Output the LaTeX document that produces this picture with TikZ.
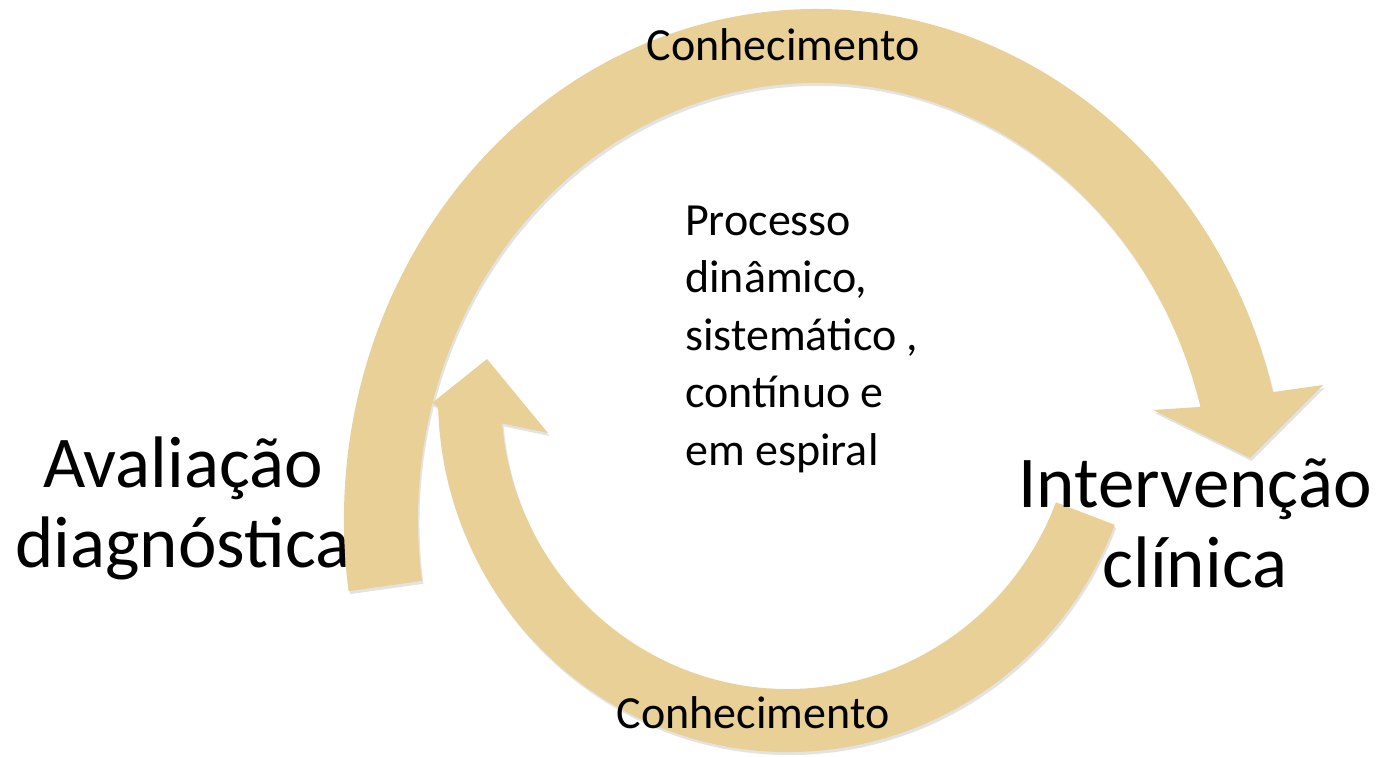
\documentclass[tikz,border=0pt]{standalone}
\usepackage{fontspec}
\setmainfont{Carlito}
\usetikzlibrary{calc,shadows}
\definecolor{papyrus}{RGB}{232,208,150}
\begin{document}
\begin{tikzpicture}[x=1pt,y=1pt,
  arrowband/.style={fill=papyrus, draw=none,
    drop shadow={opacity=0.22, shadow xshift=1.5pt, shadow yshift=-3pt}},
  bigtext/.style={font=\fontsize{73}{80}\selectfont, align=center, inner sep=0pt, anchor=base},
  smalltext/.style={font=\fontsize{46}{57.5}\selectfont, inner sep=0pt}]
\useasboundingbox (0,0) rectangle (1383,-756);
\coordinate (C1) at (816,-520);
\coordinate (C2) at (788,-398);
% anchor=base of a multi-line node is the baseline of its last line
\node[bigtext] (aval) at (183,-567) {Avaliação\\diagnóstica};
% top arrow
\coordinate (TW1) at (1323,-385);
\coordinate (TT) at (1250,-458);
\coordinate (TW2) at (1153,-410);
\path[arrowband] ($(C1)+(188:472pt and 511pt)$)
  arc[start angle=188,end angle=14.5,x radius=472pt,y radius=511pt]
  -- (TW1) -- (TT) -- (TW2)
  -- ($(C1)+(15:398pt and 437pt)$)
  arc[start angle=15,end angle=188,x radius=398pt,y radius=437pt] -- cycle;
% bottom arrow
\coordinate (BW1) at (432,-403);
\coordinate (BT) at (487,-359);
\coordinate (BW2) at (548,-433);
\path[arrowband] ($(C2)+(-21:350pt and 354pt)$)
  arc[start angle=-21,end angle=-178.5,x radius=350pt,y radius=354pt]
  -- (BW1) -- (BT) -- (BW2)
  -- ($(C2)+(-175:287pt and 291pt)$)
  arc[start angle=-175,end angle=-21,x radius=287pt,y radius=291pt] -- cycle;
\node[bigtext] (interv) at (1195,-587) {Intervenção\\clínica};
\node[smalltext, anchor=base] (conh1) at (783,-60) {Conhecimento};
\node[smalltext, anchor=base] (conh2) at (753,-728) {Conhecimento};
\node[smalltext, align=left, anchor=base west] (proc) at (685,-465)
  {Processo\\dinâmico,\\sistemático ,\\contínuo e\\em espiral};
\end{tikzpicture}
\end{document}
